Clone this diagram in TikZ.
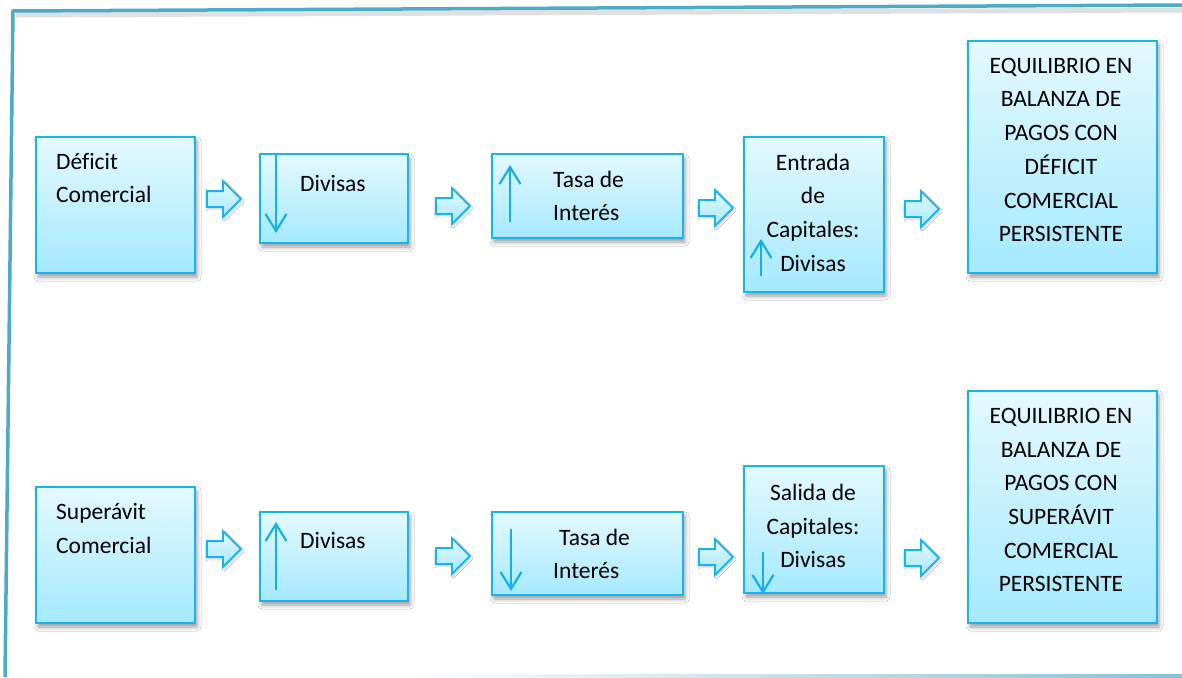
\documentclass[tikz,border=0pt]{standalone}
\usepackage{fontspec}
\setmainfont{Carlito}[Ligatures=NoCommon]
\usetikzlibrary{shapes.arrows,shadows.blur,arrows.meta}
\definecolor{frameteal}{RGB}{75,172,198}
\definecolor{boxline}{RGB}{23,180,240}
\definecolor{boxtop}{RGB}{228,249,254}
\definecolor{boxbot}{RGB}{165,233,254}
\definecolor{tickblue}{RGB}{20,176,236}
\begin{document}
\begin{tikzpicture}[x=1pt,y=-1pt,
  box/.style={draw=boxline, line width=2pt, top color=boxtop, bottom color=boxbot,
    anchor=north west, inner sep=0pt,
    blur shadow={shadow xshift=2pt, shadow yshift=-4pt, shadow blur radius=4pt, shadow opacity=40}},
  blockarrow/.style={single arrow, draw=boxline, line width=1.8pt,
    top color=boxtop, bottom color=boxbot, minimum height=34pt,
    inner xsep=0pt, inner ysep=7pt, single arrow head extend=10pt,
    single arrow tip angle=90,
    blur shadow={shadow xshift=1pt, shadow yshift=-2pt, shadow blur radius=2pt, shadow opacity=25}},
  lbl/.style={inner sep=0pt, font=\fontsize{23.5pt}{33.7pt}\selectfont, text=black},
  tickarrow/.style={draw=tickblue, line width=2.2pt,
    -{Straight Barb[length=17pt,width=21pt,line width=2.2pt]}}
]
\useasboundingbox (0,0) rectangle (1182,677);
\fill[white] (0,0) rectangle (1182,677);

% page frame
\coordinate (ftr) at (1182,5);
\coordinate (ftl) at (13,11);
\coordinate (fbl) at (5,677);
\coordinate (fshr) at (1182,10);
\coordinate (fshl) at (16,15);
\draw[black, opacity=0.12, line width=5pt] (fshl) -- (fshr);
\draw[frameteal, line width=3.5pt] (ftr) -- (ftl) -- (fbl);
\shade[left color=white, right color=frameteal!70] (400,674.5) rectangle (1182,677);

% first chain: trade deficit
\node[box, minimum width=159pt, minimum height=136pt] (d1) at (35,136) {};
\node[box, minimum width=148pt, minimum height=89pt]  (d2) at (259,153) {};
\node[box, minimum width=191pt, minimum height=84pt]  (d3) at (491,153) {};
\node[box, minimum width=140pt, minimum height=155pt] (d4) at (743,136) {};
\node[box, minimum width=189pt, minimum height=232pt] (d5) at (967,40) {};

\node[lbl, align=left, anchor=west] (d1t) at (56,178) {Déficit\\Comercial};
\node[lbl, anchor=west] (d2t) at (300,183) {Divisas};
\node[lbl, align=left, anchor=west] (d3t) at (553,196) {Tasa de\\Interés};
\node[lbl, align=center] (d4t) at (813,212.5) {Entrada\\de\\Capitales:\\Divisas};
\node[lbl, align=center] (d5t) at (1061,150) {EQUILIBRIO EN\\BALANZA DE\\PAGOS CON\\DÉFICIT\\COMERCIAL\\PERSISTENTE};

\node[blockarrow] (da1) at (220,199) {};
\node[blockarrow] (da2) at (449,206) {};
\node[blockarrow] (da3) at (712,208) {};
\node[blockarrow] (da4) at (918,209) {};

\coordinate (dk2a) at (276,155);
\coordinate (dk2b) at (276,233);
\coordinate (dk3a) at (510,222);
\coordinate (dk3b) at (510,165);
\coordinate (dk4a) at (761,276);
\coordinate (dk4b) at (761,239);
\draw[tickarrow] (dk2a) -- (dk2b);
\draw[tickarrow] (dk3a) -- (dk3b);
\draw[tickarrow] (dk4a) -- (dk4b);

% second chain: trade surplus
\node[box, minimum width=159pt, minimum height=136pt] (s1) at (35,486) {};
\node[box, minimum width=148pt, minimum height=89pt]  (s2) at (259,511) {};
\node[box, minimum width=191pt, minimum height=83pt]  (s3) at (491,511) {};
\node[box, minimum width=140pt, minimum height=127pt] (s4) at (743,465) {};
\node[box, minimum width=189pt, minimum height=232pt] (s5) at (967,390) {};

\node[lbl, align=left, anchor=west] (s1t) at (56,528.5) {Superávit\\Comercial};
\node[lbl, anchor=west] (s2t) at (300,540) {Divisas};
\node[lbl, align=left, anchor=west] (s3t) at (553,554) {\hspace*{6pt}Tasa de\\Interés};
\node[lbl, align=center] (s4t) at (813,526) {Salida de\\Capitales:\\Divisas};
\node[lbl, align=center] (s5t) at (1061,500) {EQUILIBRIO EN\\BALANZA DE\\PAGOS CON\\SUPERÁVIT\\COMERCIAL\\PERSISTENTE};

\node[blockarrow] (sa1) at (220,549) {};
\node[blockarrow] (sa2) at (449,556) {};
\node[blockarrow] (sa3) at (712,557) {};
\node[blockarrow] (sa4) at (918,558) {};

\coordinate (sk2a) at (276,590);
\coordinate (sk2b) at (276,522);
\coordinate (sk3a) at (511,529);
\coordinate (sk3b) at (511,591);
\coordinate (sk4a) at (763,552);
\coordinate (sk4b) at (763,594);
\draw[tickarrow] (sk2a) -- (sk2b);
\draw[tickarrow] (sk3a) -- (sk3b);
\draw[tickarrow] (sk4a) -- (sk4b);
\end{tikzpicture}
\end{document}
